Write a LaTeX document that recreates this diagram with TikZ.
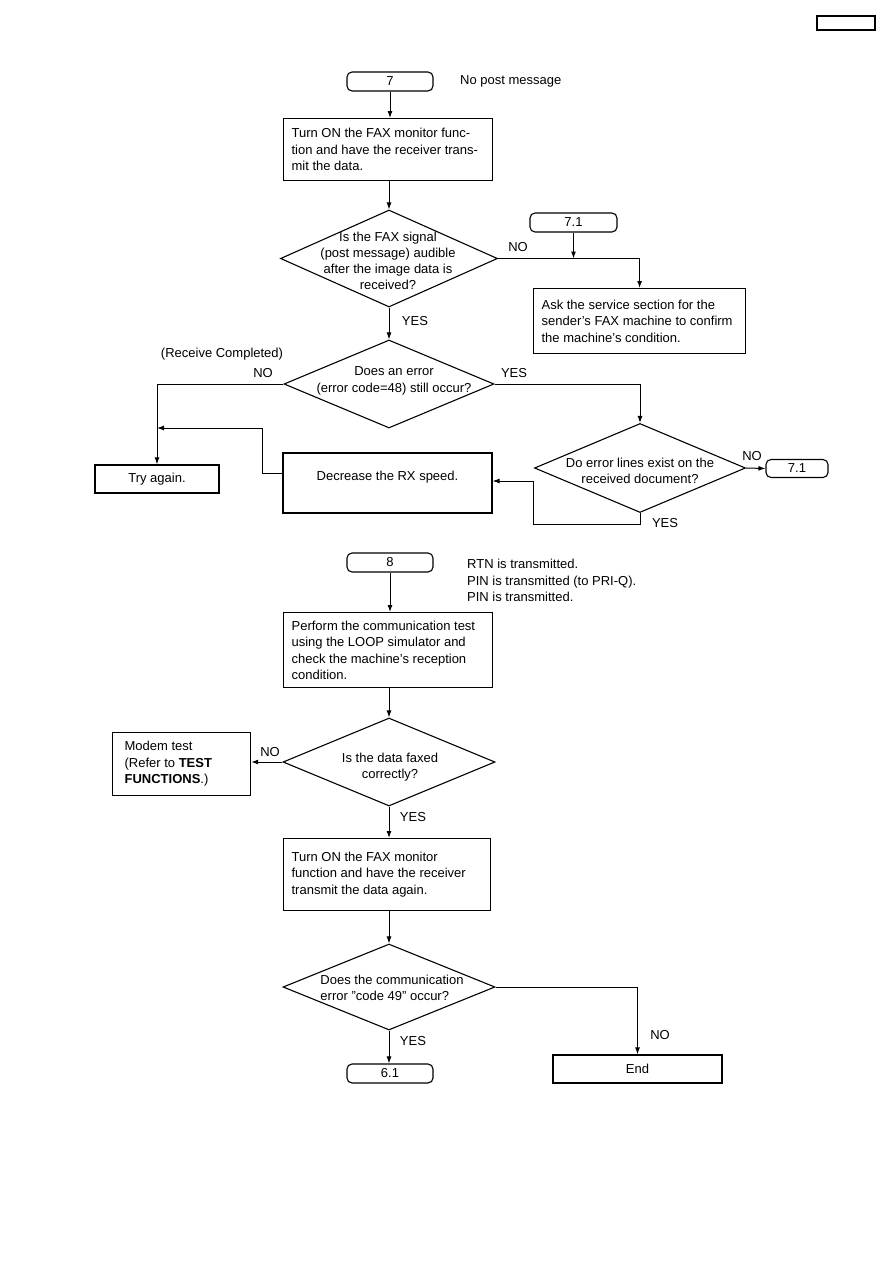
\documentclass[tikz,border=0pt]{standalone}
\usepackage{fontspec}
\setmainfont{Liberation Sans}
\usetikzlibrary{shapes.geometric,arrows.meta}
\begin{document}
\begin{tikzpicture}[x=1pt,y=-1pt,
  every node/.style={font=\fontsize{13}{16.5}\selectfont, inner sep=0pt},
  box/.style={draw, line width=1.2pt, rectangle, align=flush left, anchor=north west},
  cbox/.style={draw, line width=1.2pt, rectangle, align=center},
  term/.style={draw, line width=1.1pt, rounded corners=5pt, minimum width=86pt, minimum height=19pt},
  dia/.style={draw, line width=1.1pt, diamond, inner sep=0pt},
  arr/.style={line width=1pt, -{Latex[length=7pt,width=5pt]}}]
\useasboundingbox (0,0) rectangle (893,1263);

% header box
\node[draw, line width=1.3pt, minimum width=58pt, minimum height=14pt] (hdr) at (846,23) {};

% ---------- part 7 ----------
\node[term] (t7) at (390,81.5) {7};
\node[anchor=west] (n7) at (460,81) {No post message};

\node[box, minimum width=209pt, minimum height=62pt, text width=193pt, inner xsep=8pt] (b1) at (283,118)
  {Turn ON the FAX monitor func-\\tion and have the receiver trans-\\mit the data.};

\node[dia, minimum width=217pt, minimum height=97pt] (d1) at (389,258.5) {};
\node[align=center, font=\fontsize{13}{16}\selectfont] (d1t) at (388,261) {Is the FAX signal\\(post message) audible\\after the image data is\\received?};

\node[term, minimum width=87pt] (t71a) at (573.5,222.5) {7.1};

\node[box, minimum width=212pt, minimum height=65pt, text width=196pt, inner xsep=8pt] (ask) at (533,288)
  {Ask the service section for the\\sender's FAX machine to confirm\\the machine's condition.};

\node[dia, minimum width=210pt, minimum height=88pt] (d2) at (389,384) {};
\node[align=center] (d2t) at (394,381) {Does an error\\(error code=48) still occur?};
\node (rc) at (222,354) {(Receive Completed)};

\node[cbox, minimum width=124pt, minimum height=28pt] (try) at (157,479) {Try again.};

\node[draw, line width=1.2pt, minimum width=209pt, minimum height=60pt] (dec) at (387.5,483) {};
\node (dect) at (387.5,477) {Decrease the RX speed.};

\node[dia, minimum width=211pt, minimum height=89pt] (d3) at (640,468) {};
\node[align=center] (d3t) at (640,471) {Do error lines exist on the\\received document?};

\node[term, minimum width=62pt, minimum height=18pt] (t71b) at (797,468.5) {7.1};

% labels part 7
\node (l1) at (518,247) {NO};
\node (l2) at (415,321) {YES};
\node (l3) at (263,373) {NO};
\node (l4) at (514,373) {YES};
\node (l5) at (752,456) {NO};
\node (l6) at (665,523) {YES};

% connectors part 7
\draw[arr] (t7.south) -- (t7.south |- b1.north);
\draw[arr] (d1.north |- b1.south) -- (d1.north);
\draw[arr] (d1.east) -| (ask.north);
\draw[arr] (t71a.south) -- (t71a.south |- d1.east);
\draw[arr] (d1.south) -- (d2.north);
\draw[arr] (d2.west) -| (try.north);
\draw[arr] (d2.east) -| (d3.north);
\draw[arr] (d3.east) -- (t71b.west);
\coordinate (c1) at (533,524);
\coordinate (c2) at (533,481);
\draw[arr] (d3.south) |- (c1) -- (c2) -- (c2 -| dec.east);
\coordinate (c3) at (262,473);
\coordinate (c4) at (262,428);
\draw[arr] (c3 -| dec.west) -- (c3) -- (c4) -- (c4 -| try.north);

% ---------- part 8 ----------
\node[term] (t8) at (390,562.5) {8};
\node[anchor=west, align=left] (n8) at (467,580.5) {RTN is transmitted.\\PIN is transmitted (to PRI-Q).\\PIN is transmitted.};

\node[box, minimum width=209pt, minimum height=75pt, text width=193pt, inner xsep=8pt] (perf) at (283,612)
  {Perform the communication test\\using the LOOP simulator and\\check the machine's reception\\condition.};

\node[dia, minimum width=212pt, minimum height=88pt] (d4) at (389,762) {};
\node[align=center] (d4t) at (390,767) {Is the data faxed\\correctly?};

\node[box, minimum width=138pt, minimum height=63pt, text width=114pt, inner xsep=12pt] (modem) at (112,732)
  {Modem test\\(Refer to \textbf{TEST}\\\textbf{FUNCTIONS}.)};

\node[box, minimum width=207pt, minimum height=72pt, text width=191pt, inner xsep=8pt] (b2) at (283,838)
  {Turn ON the FAX monitor\\function and have the receiver\\transmit the data again.};

\node[dia, minimum width=212pt, minimum height=86pt] (d5) at (389,987) {};
\node[align=left] (d5t) at (392,988) {Does the communication\\error "code 49" occur?};

\node[term] (t61) at (390,1073.5) {6.1};
\node[cbox, minimum width=169pt, minimum height=28pt] (end) at (637.5,1069) {End};

% labels part 8
\node (l7) at (270,752) {NO};
\node (l8) at (413,817) {YES};
\node (l9) at (413,1041) {YES};
\node (l10) at (660,1035) {NO};

% connectors part 8
\draw[arr] (t8.south) -- (t8.south |- perf.north);
\draw[arr] (d4.north |- perf.south) -- (d4.north);
\draw[arr] (d4.west) -- (modem.east |- d4.west);
\draw[arr] (d4.south) -- (d4.south |- b2.north);
\draw[arr] (d5.north |- b2.south) -- (d5.north);
\draw[arr] (d5.south) -- (d5.south |- t61.north);
\draw[arr] (d5.east) -| (end.north);

\end{tikzpicture}
\end{document}
